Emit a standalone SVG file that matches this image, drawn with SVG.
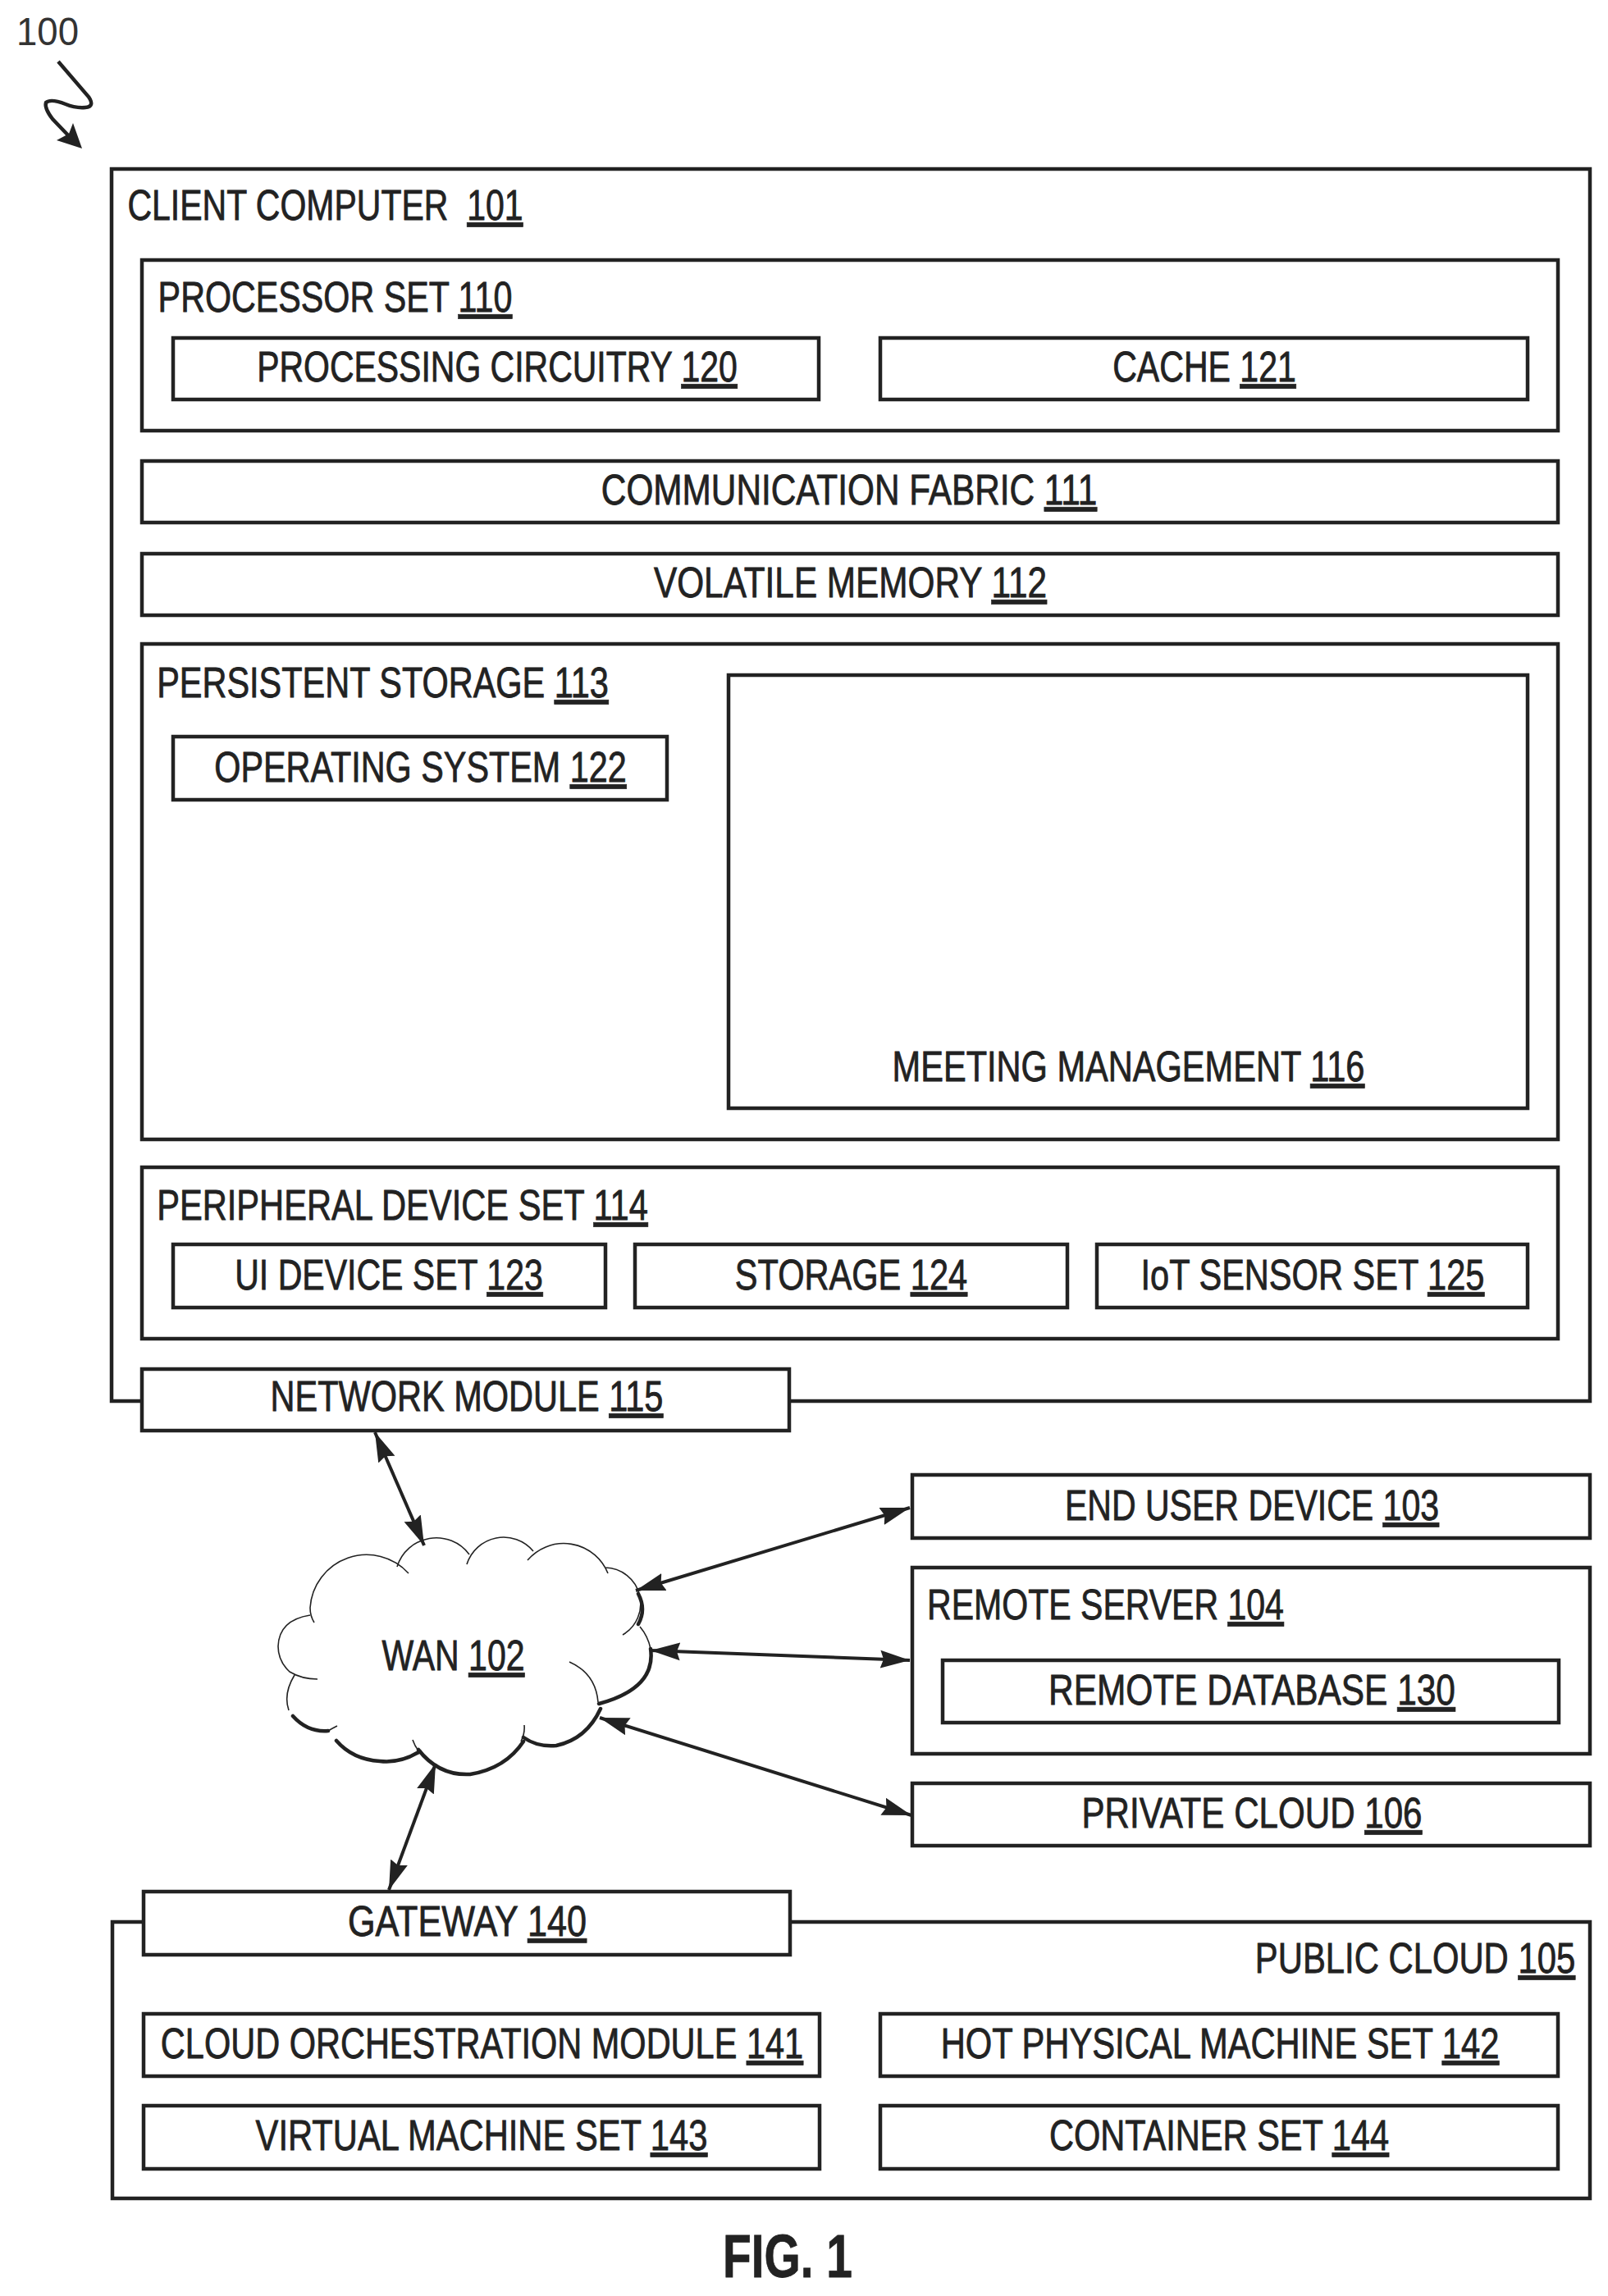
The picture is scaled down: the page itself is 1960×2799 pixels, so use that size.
<svg xmlns="http://www.w3.org/2000/svg" width="1960" height="2799" viewBox="0 0 1960 2799">
<style>
.b{fill:#fff;stroke:#222;stroke-width:4.5}
.n{fill:none;stroke:#222;stroke-width:4.5}
text{font-family:"Liberation Sans",Arial,sans-serif;font-size:51px;fill:#222;stroke:#222;stroke-width:.8}
.m{text-anchor:middle}
.u{text-decoration:underline}
.c{fill:none;stroke:#222;stroke-width:1.6}
.ct{fill:none;stroke:#222;stroke-width:4.5;stroke-linecap:round}
.a{fill:none;stroke:#222;stroke-width:4;marker-start:url(#h);marker-end:url(#h)}
</style>
<defs>
<marker id="h" markerUnits="userSpaceOnUse" markerWidth="38" markerHeight="26" refX="36" refY="13" orient="auto-start-reverse"><path d="M0 2L36 13L0 24L4 13Z" fill="#222"/></marker>
</defs>
<g id="ref-100">
<text x="20" y="55" textLength="76" lengthAdjust="spacingAndGlyphs" style="font-size:48px;stroke:none;fill:#333">100</text>
<path class="n" d="M71 75L108 118Q116 130 104 131Q92 132 80 127Q62 120 56 125Q54 132 64 145L86 168"/>
<path d="M100 181L89 150L84 163L69 171Z" fill="#222"/>
</g>
<g id="node-101">
<rect class="b" x="136" y="206" width="1802" height="1502"/>
<text class="m" transform="matrix(.804 0 0 1 396.5 268)">CLIENT COMPUTER&#160; <tspan class="u">101</tspan></text>
</g>
<g id="node-110">
<rect class="b" x="173" y="317" width="1726" height="208"/>
<text class="m" transform="matrix(.809 0 0 1 408.5 380)">PROCESSOR SET <tspan class="u">110</tspan></text>
</g>
<g id="node-120">
<rect class="b" x="211" y="412" width="787" height="75"/>
<text class="m" transform="matrix(.803 0 0 1 606 465)">PROCESSING CIRCUITRY <tspan class="u">120</tspan></text>
</g>
<g id="node-121">
<rect class="b" x="1073" y="412" width="789" height="75"/>
<text class="m" transform="matrix(.805 0 0 1 1468 465)">CACHE <tspan class="u">121</tspan></text>
</g>
<g id="node-111">
<rect class="b" x="173" y="562" width="1726" height="75"/>
<text class="m" transform="matrix(.83 0 0 1 1035 615)">COMMUNICATION FABRIC <tspan class="u">111</tspan></text>
</g>
<g id="node-112">
<rect class="b" x="173" y="675" width="1726" height="75"/>
<text class="m" transform="matrix(.83 0 0 1 1036.5 728)">VOLATILE MEMORY <tspan class="u">112</tspan></text>
</g>
<g id="node-113">
<rect class="b" x="173" y="785" width="1726" height="604"/>
<text class="m" transform="matrix(.813 0 0 1 466.5 850)">PERSISTENT STORAGE <tspan class="u">113</tspan></text>
</g>
<g id="node-122">
<rect class="b" x="211" y="898" width="602" height="77"/>
<text class="m" transform="matrix(.811 0 0 1 512.5 953)">OPERATING SYSTEM <tspan class="u">122</tspan></text>
</g>
<g id="node-116">
<rect class="b" x="888" y="823" width="974" height="528"/>
<text class="m" transform="matrix(.815 0 0 1 1375.5 1318)">MEETING MANAGEMENT <tspan class="u">116</tspan></text>
</g>
<g id="node-114">
<rect class="b" x="173" y="1423" width="1726" height="209"/>
<text class="m" transform="matrix(.817 0 0 1 490.5 1487)">PERIPHERAL DEVICE SET <tspan class="u">114</tspan></text>
</g>
<g id="node-123">
<rect class="b" x="211" y="1517" width="527" height="77"/>
<text class="m" transform="matrix(.805 0 0 1 474 1572)">UI DEVICE SET <tspan class="u">123</tspan></text>
</g>
<g id="node-124">
<rect class="b" x="774" y="1517" width="527" height="77"/>
<text class="m" transform="matrix(.815 0 0 1 1037.5 1572)">STORAGE <tspan class="u">124</tspan></text>
</g>
<g id="node-125">
<rect class="b" x="1337" y="1517" width="525" height="77"/>
<text class="m" transform="matrix(.815 0 0 1 1600 1572)">IoT SENSOR SET <tspan class="u">125</tspan></text>
</g>
<g id="node-115">
<rect class="b" x="173" y="1669" width="789" height="75"/>
<text class="m" transform="matrix(.814 0 0 1 569 1720)">NETWORK MODULE <tspan class="u">115</tspan></text>
</g>
<g id="node-102">
<path class="c" d="M484 1910A50 50 0 0 1 572 1895M569 1907A47 47 0 0 1 650 1891M643 1902A58 58 0 0 1 741 1918M738 1911A44 44 0 0 1 759 1993M780 1983Q790 1995 793 2010M694 2026Q726 2040 729 2075M639 2103Q640 2113 635 2123M503 2121Q506 2130 513 2138M411 2104Q405 2107 400 2110M359 2042Q345 2065 352 2085M387 2047Q368 2047 353 2038Q339 2025 339 2007Q340 1975 378 1969M383 1978Q378 1970 378 1960A69 69 0 0 1 498 1918"/>
<path class="ct" d="M778 1943Q788 1962 778 1980M793 2010Q800 2058 730 2077M732 2083Q715 2120 678 2128Q655 2130 638 2118M638 2123Q616 2156 573 2163Q535 2165 510 2133M512 2135Q488 2150 463 2147Q430 2145 410 2122M357 2092Q375 2112 400 2110"/>
<text class="m" transform="matrix(.805 0 0 1 552.5 2036)">WAN <tspan class="u">102</tspan></text>
</g>
<g id="node-103">
<rect class="b" x="1112" y="1798" width="826" height="77"/>
<text class="m" transform="matrix(.805 0 0 1 1526 1853)">END USER DEVICE <tspan class="u">103</tspan></text>
</g>
<g id="node-104">
<rect class="b" x="1112" y="1911" width="826" height="227"/>
<text class="m" transform="matrix(.805 0 0 1 1347.5 1974)">REMOTE SERVER <tspan class="u">104</tspan></text>
</g>
<g id="node-130">
<rect class="b" x="1149" y="2024" width="751" height="76"/>
<text class="m" transform="matrix(.832 0 0 1 1526 2078)">REMOTE DATABASE <tspan class="u">130</tspan></text>
</g>
<g id="node-106">
<rect class="b" x="1112" y="2174" width="826" height="76"/>
<text class="m" transform="matrix(.826 0 0 1 1526 2228)">PRIVATE CLOUD <tspan class="u">106</tspan></text>
</g>
<g id="node-105">
<rect class="b" x="137" y="2343" width="1801" height="337"/>
<text class="m" transform="matrix(.82 0 0 1 1725 2405)">PUBLIC CLOUD <tspan class="u">105</tspan></text>
</g>
<g id="node-140">
<rect class="b" x="175" y="2306" width="788" height="77"/>
<text class="m" transform="matrix(.847 0 0 1 569.5 2360)">GATEWAY <tspan class="u">140</tspan></text>
</g>
<g id="node-141">
<rect class="b" x="175" y="2455" width="824" height="76"/>
<text class="m" transform="matrix(.814 0 0 1 587.5 2509)">CLOUD ORCHESTRATION MODULE <tspan class="u">141</tspan></text>
</g>
<g id="node-142">
<rect class="b" x="1073" y="2455" width="826" height="76"/>
<text class="m" transform="matrix(.818 0 0 1 1487 2509)">HOT PHYSICAL MACHINE SET <tspan class="u">142</tspan></text>
</g>
<g id="node-143">
<rect class="b" x="175" y="2567" width="824" height="77"/>
<text class="m" transform="matrix(.818 0 0 1 587 2621)">VIRTUAL MACHINE SET <tspan class="u">143</tspan></text>
</g>
<g id="node-144">
<rect class="b" x="1073" y="2567" width="826" height="77"/>
<text class="m" transform="matrix(.815 0 0 1 1486 2621)">CONTAINER SET <tspan class="u">144</tspan></text>
</g>
<g id="connectors">
<path class="a" d="M457 1746L517 1884"/>
<path class="a" d="M775 1939L1109 1838"/>
<path class="a" d="M793 2012L1109 2024"/>
<path class="a" d="M731 2094L1111 2213"/>
<path class="a" d="M531 2150L474 2304"/>
</g>
<text id="fig" x="881" y="2776" textLength="158" lengthAdjust="spacingAndGlyphs" style="font-size:75px;font-weight:bold">FIG. 1</text>
</svg>
